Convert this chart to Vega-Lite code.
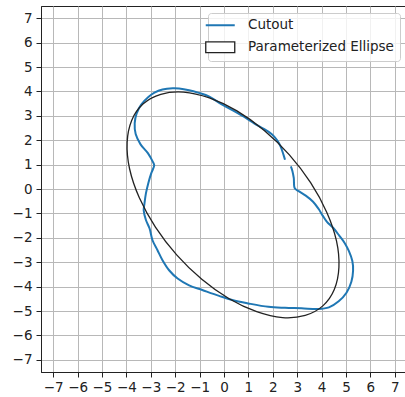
{
  "$schema": "https://vega.github.io/schema/vega-lite/v6.json",
  "width": 366,
  "height": 366,
  "autosize": {"type": "none"},
  "padding": {"left": 41, "top": 6, "right": 0, "bottom": 25},
  "datasets": {
    "cutout": [
      {"i": 0, "x": 2.50, "y": 1.20, "series": "Cutout"},
      {"i": 1, "x": 2.44, "y": 1.40, "series": "Cutout"},
      {"i": 2, "x": 2.33, "y": 1.72, "series": "Cutout"},
      {"i": 3, "x": 2.18, "y": 1.99, "series": "Cutout"},
      {"i": 4, "x": 1.95, "y": 2.25, "series": "Cutout"},
      {"i": 5, "x": 1.59, "y": 2.49, "series": "Cutout"},
      {"i": 6, "x": 1.25, "y": 2.68, "series": "Cutout"},
      {"i": 7, "x": 0.91, "y": 2.90, "series": "Cutout"},
      {"i": 8, "x": 0.36, "y": 3.22, "series": "Cutout"},
      {"i": 9, "x": -0.18, "y": 3.52, "series": "Cutout"},
      {"i": 10, "x": -0.62, "y": 3.80, "series": "Cutout"},
      {"i": 11, "x": -1.03, "y": 3.94, "series": "Cutout"},
      {"i": 12, "x": -1.43, "y": 4.05, "series": "Cutout"},
      {"i": 13, "x": -1.84, "y": 4.12, "series": "Cutout"},
      {"i": 14, "x": -2.10, "y": 4.13, "series": "Cutout"},
      {"i": 15, "x": -2.52, "y": 4.08, "series": "Cutout"},
      {"i": 16, "x": -2.85, "y": 3.95, "series": "Cutout"},
      {"i": 17, "x": -3.10, "y": 3.77, "series": "Cutout"},
      {"i": 18, "x": -3.40, "y": 3.45, "series": "Cutout"},
      {"i": 19, "x": -3.58, "y": 3.10, "series": "Cutout"},
      {"i": 20, "x": -3.66, "y": 2.70, "series": "Cutout"},
      {"i": 21, "x": -3.62, "y": 2.25, "series": "Cutout"},
      {"i": 22, "x": -3.42, "y": 1.83, "series": "Cutout"},
      {"i": 23, "x": -3.12, "y": 1.47, "series": "Cutout"},
      {"i": 24, "x": -2.92, "y": 1.12, "series": "Cutout"},
      {"i": 25, "x": -2.86, "y": 0.97, "series": "Cutout"},
      {"i": 26, "x": -2.98, "y": 0.65, "series": "Cutout"},
      {"i": 27, "x": -3.10, "y": 0.25, "series": "Cutout"},
      {"i": 28, "x": -3.20, "y": -0.18, "series": "Cutout"},
      {"i": 29, "x": -3.26, "y": -0.60, "series": "Cutout"},
      {"i": 30, "x": -3.29, "y": -0.88, "series": "Cutout"},
      {"i": 31, "x": -3.20, "y": -1.27, "series": "Cutout"},
      {"i": 32, "x": -3.05, "y": -1.62, "series": "Cutout"},
      {"i": 33, "x": -2.93, "y": -2.10, "series": "Cutout"},
      {"i": 34, "x": -2.73, "y": -2.50, "series": "Cutout"},
      {"i": 35, "x": -2.52, "y": -2.92, "series": "Cutout"},
      {"i": 36, "x": -2.25, "y": -3.33, "series": "Cutout"},
      {"i": 37, "x": -1.90, "y": -3.67, "series": "Cutout"},
      {"i": 38, "x": -1.43, "y": -3.95, "series": "Cutout"},
      {"i": 39, "x": -0.89, "y": -4.14, "series": "Cutout"},
      {"i": 40, "x": -0.20, "y": -4.38, "series": "Cutout"},
      {"i": 41, "x": 0.34, "y": -4.55, "series": "Cutout"},
      {"i": 42, "x": 1.00, "y": -4.69, "series": "Cutout"},
      {"i": 43, "x": 1.82, "y": -4.83, "series": "Cutout"},
      {"i": 44, "x": 2.50, "y": -4.87, "series": "Cutout"},
      {"i": 45, "x": 3.18, "y": -4.89, "series": "Cutout"},
      {"i": 46, "x": 3.86, "y": -4.92, "series": "Cutout"},
      {"i": 47, "x": 4.30, "y": -4.85, "series": "Cutout"},
      {"i": 48, "x": 4.70, "y": -4.60, "series": "Cutout"},
      {"i": 49, "x": 5.02, "y": -4.25, "series": "Cutout"},
      {"i": 50, "x": 5.22, "y": -3.80, "series": "Cutout"},
      {"i": 51, "x": 5.29, "y": -3.35, "series": "Cutout"},
      {"i": 52, "x": 5.26, "y": -2.95, "series": "Cutout"},
      {"i": 53, "x": 5.12, "y": -2.55, "series": "Cutout"},
      {"i": 54, "x": 4.95, "y": -2.22, "series": "Cutout"},
      {"i": 55, "x": 4.73, "y": -1.92, "series": "Cutout"},
      {"i": 56, "x": 4.48, "y": -1.60, "series": "Cutout"},
      {"i": 57, "x": 4.22, "y": -1.35, "series": "Cutout"},
      {"i": 58, "x": 4.05, "y": -1.10, "series": "Cutout"},
      {"i": 59, "x": 3.88, "y": -0.82, "series": "Cutout"},
      {"i": 60, "x": 3.65, "y": -0.52, "series": "Cutout"},
      {"i": 61, "x": 3.35, "y": -0.27, "series": "Cutout"},
      {"i": 62, "x": 3.08, "y": -0.10, "series": "Cutout"},
      {"i": 63, "x": 2.90, "y": 0.03, "series": "Cutout"},
      {"i": 64, "x": 2.86, "y": 0.45, "series": "Cutout"},
      {"i": 65, "x": 2.80, "y": 0.75, "series": "Cutout"},
      {"i": 66, "x": 2.74, "y": 0.93, "series": "Cutout"}
    ],
    "ellipse": [
      {"i": 0, "x": 4.05, "y": -4.79, "series": "Parameterized Ellipse"},
      {"i": 1, "x": 4.52, "y": -4.12, "series": "Parameterized Ellipse"},
      {"i": 2, "x": 4.71, "y": -3.21, "series": "Parameterized Ellipse"},
      {"i": 3, "x": 4.61, "y": -2.13, "series": "Parameterized Ellipse"},
      {"i": 4, "x": 4.21, "y": -0.95, "series": "Parameterized Ellipse"},
      {"i": 5, "x": 3.55, "y": 0.26, "series": "Parameterized Ellipse"},
      {"i": 6, "x": 2.68, "y": 1.40, "series": "Parameterized Ellipse"},
      {"i": 7, "x": 1.65, "y": 2.40, "series": "Parameterized Ellipse"},
      {"i": 8, "x": 0.53, "y": 3.20, "series": "Parameterized Ellipse"},
      {"i": 9, "x": -0.60, "y": 3.73, "series": "Parameterized Ellipse"},
      {"i": 10, "x": -1.66, "y": 3.97, "series": "Parameterized Ellipse"},
      {"i": 11, "x": -2.59, "y": 3.88, "series": "Parameterized Ellipse"},
      {"i": 12, "x": -3.31, "y": 3.49, "series": "Parameterized Ellipse"},
      {"i": 13, "x": -3.78, "y": 2.82, "series": "Parameterized Ellipse"},
      {"i": 14, "x": -3.97, "y": 1.91, "series": "Parameterized Ellipse"},
      {"i": 15, "x": -3.87, "y": 0.83, "series": "Parameterized Ellipse"},
      {"i": 16, "x": -3.47, "y": -0.36, "series": "Parameterized Ellipse"},
      {"i": 17, "x": -2.81, "y": -1.56, "series": "Parameterized Ellipse"},
      {"i": 18, "x": -1.94, "y": -2.70, "series": "Parameterized Ellipse"},
      {"i": 19, "x": -0.91, "y": -3.70, "series": "Parameterized Ellipse"},
      {"i": 20, "x": 0.21, "y": -4.50, "series": "Parameterized Ellipse"},
      {"i": 21, "x": 1.34, "y": -5.03, "series": "Parameterized Ellipse"},
      {"i": 22, "x": 2.40, "y": -5.27, "series": "Parameterized Ellipse"},
      {"i": 23, "x": 3.33, "y": -5.18, "series": "Parameterized Ellipse"}
    ]
  },
  "encoding": {
    "x": {
      "field": "x", "type": "quantitative",
      "scale": {"domain": [-7.5, 7.5], "nice": false, "zero": false},
      "axis": {"title": null, "values": [-7,-6,-5,-4,-3,-2,-1,0,1,2,3,4,5,6,7], "labelExpr": "replace(datum.label, '-', '−')", "labelPadding": 3}
    },
    "y": {
      "field": "y", "type": "quantitative",
      "scale": {"domain": [-7.5, 7.5], "nice": false, "zero": false},
      "axis": {"title": null, "values": [-7,-6,-5,-4,-3,-2,-1,0,1,2,3,4,5,6,7], "labelExpr": "replace(datum.label, '-', '−')", "labelPadding": 4}
    },
    "order": {"field": "i", "type": "quantitative"},
    "color": {
      "field": "series", "type": "nominal",
      "scale": {"domain": ["Cutout", "Parameterized Ellipse"], "range": ["#1f77b4", "#222222"]},
      "legend": {
        "title": null,
        "orient": "top-right",
        "offset": 7,
        "symbolSize": 841,
        "labelOffset": 21,
        "labelFontSize": 13.5,
        "labelFont": "DejaVu Sans",
        "labelColor": "#222",
        "rowPadding": 6,
        "padding": 5.5,
        "fillColor": "rgba(255,255,255,0.8)",
        "strokeColor": "#cccccc",
        "cornerRadius": 3,
        "labelLimit": 300,
        "encode": {
          "symbols": {
            "update": {
              "shape": {"signal": "datum.value === 'Cutout' ? 'stroke' : 'M-1,-0.37H1V0.37H-1Z'"},
              "fill": {"signal": "datum.value === 'Cutout' ? 'transparent' : '#ffffff'"},
              "stroke": {"signal": "datum.value === 'Cutout' ? '#1f77b4' : '#222222'"},
              "strokeWidth": {"signal": "datum.value === 'Cutout' ? 2 : 1.3"},
              "opacity": {"value": 1}
            }
          }
        }
      }
    }
  },
  "layer": [
    {
      "data": {"name": "cutout"},
      "mark": {"type": "line", "strokeWidth": 2, "interpolate": "catmull-rom"}
    },
    {
      "data": {"name": "ellipse"},
      "mark": {"type": "line", "strokeWidth": 1.3, "interpolate": "cardinal-closed"}
    }
  ],
  "config": {
    "view": {"stroke": "#222", "strokeWidth": 1},
    "font": "DejaVu Sans",
    "axis": {
      "labelFont": "DejaVu Sans",
      "labelFontSize": 13.5,
      "labelColor": "#222",
      "tickColor": "#222",
      "domainColor": "#222",
      "gridColor": "#b8b8b8",
      "gridWidth": 1,
      "tickSize": 5,
      "grid": true
    }
  }
}
